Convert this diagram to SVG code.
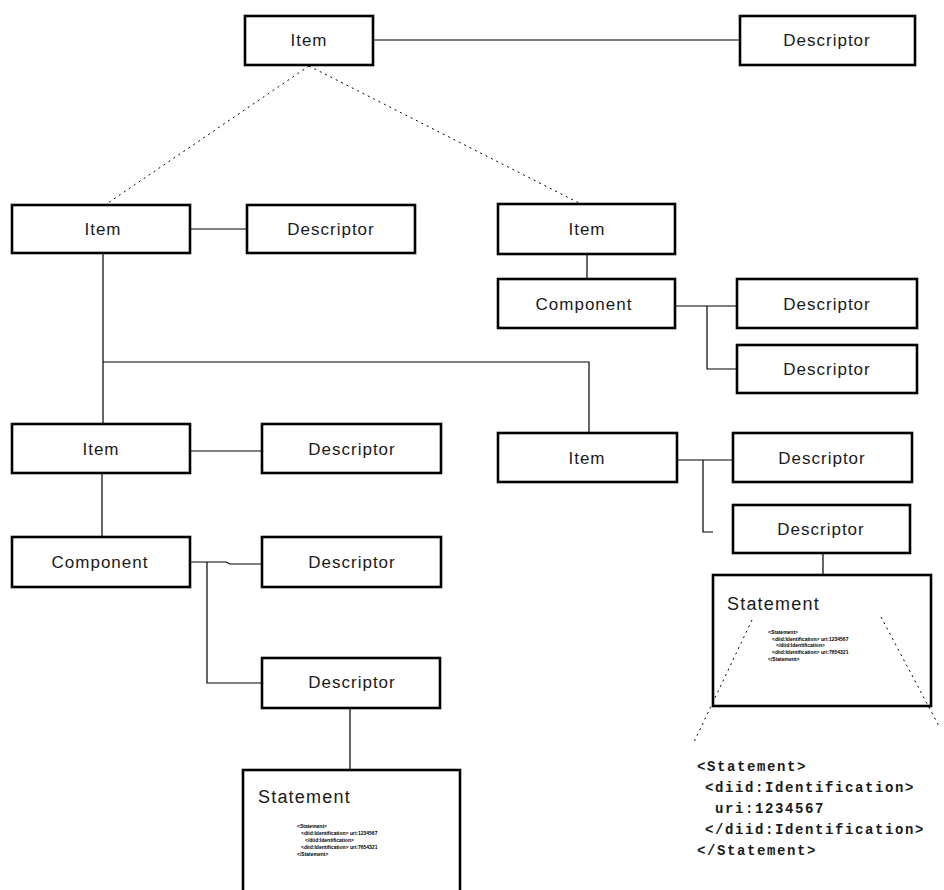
<svg xmlns="http://www.w3.org/2000/svg" width="944" height="890" viewBox="0 0 944 890">
  <style>
    .box { fill: #ffffff; stroke: #000000; stroke-width: 2.6; }
    .lbl { font-family: "Liberation Sans", Arial, sans-serif; font-size: 17px; letter-spacing: 1px; fill: #1a1a1a; text-anchor: middle; }
    .title { font-family: "Liberation Sans", Arial, sans-serif; font-size: 18px; letter-spacing: 1.2px; fill: #1a1a1a; }
    .tiny { font-family: "Liberation Sans", Arial, sans-serif; font-size: 5px; font-weight: bold; fill: #000000; }
    .code { font-family: "Liberation Mono", "Courier New", monospace; font-size: 14px; font-weight: bold; letter-spacing: 1.6px; fill: #1a1a1a; }
    .wire { fill: none; stroke: #000000; stroke-width: 1.2; }
    .dash { fill: none; stroke: #000000; stroke-width: 1; stroke-dasharray: 2 4; }
  </style>

  <!-- connectors -->
  <g id="connectors">
    <line class="wire" x1="373" y1="40" x2="740" y2="40"/>
    <line class="dash" x1="309" y1="66" x2="105" y2="205"/>
    <line class="dash" x1="309" y1="66" x2="583" y2="205"/>
    <line class="wire" x1="190" y1="229" x2="247" y2="229"/>
    <polyline class="wire" points="103,253 103,424"/>
    <polyline class="wire" points="103,362 589,362 589,433"/>
    <line class="wire" x1="587" y1="254" x2="587" y2="279"/>
    <polyline class="wire" points="675,306 737,306"/>
    <polyline class="wire" points="707,306 707,369 737,369"/>
    <line class="wire" x1="190" y1="451" x2="262" y2="451"/>
    <line class="wire" x1="102" y1="473" x2="102" y2="537"/>
    <polyline class="wire" points="190,562 226,562 230,564 262,564"/>
    <polyline class="wire" points="207,562 207,683 262,683"/>
    <line class="wire" x1="350" y1="708" x2="350" y2="770"/>
    <line class="wire" x1="677" y1="460" x2="733" y2="460"/>
    <polyline class="wire" points="703,460 703,532 713,532"/>
    <line class="wire" x1="823" y1="553" x2="823" y2="575"/>
  </g>

  <!-- top level -->
  <g id="item-root">
    <rect class="box" x="245" y="16" width="128" height="49"/>
    <text class="lbl" x="309" y="46">Item</text>
  </g>
  <g id="descriptor-root">
    <rect class="box" x="740" y="16" width="175" height="49"/>
    <text class="lbl" x="827" y="46">Descriptor</text>
  </g>

  <!-- second level, left -->
  <g id="item-a">
    <rect class="box" x="12" y="205" width="178" height="48"/>
    <text class="lbl" x="103" y="235">Item</text>
  </g>
  <g id="descriptor-a">
    <rect class="box" x="247" y="205" width="168" height="48"/>
    <text class="lbl" x="331" y="235">Descriptor</text>
  </g>

  <!-- second level, right -->
  <g id="item-b">
    <rect class="box" x="498" y="204" width="177" height="50"/>
    <text class="lbl" x="587" y="235">Item</text>
  </g>
  <g id="component-b">
    <rect class="box" x="498" y="279" width="177" height="49"/>
    <text class="lbl" x="584" y="310">Component</text>
  </g>
  <g id="descriptor-b1">
    <rect class="box" x="737" y="279" width="180" height="49"/>
    <text class="lbl" x="827" y="310">Descriptor</text>
  </g>
  <g id="descriptor-b2">
    <rect class="box" x="737" y="345" width="180" height="48"/>
    <text class="lbl" x="827" y="375">Descriptor</text>
  </g>

  <!-- third level, left -->
  <g id="item-c">
    <rect class="box" x="12" y="424" width="178" height="49"/>
    <text class="lbl" x="101" y="455">Item</text>
  </g>
  <g id="descriptor-c">
    <rect class="box" x="262" y="424" width="179" height="49"/>
    <text class="lbl" x="352" y="455">Descriptor</text>
  </g>
  <g id="component-c">
    <rect class="box" x="12" y="537" width="178" height="50"/>
    <text class="lbl" x="100" y="568">Component</text>
  </g>
  <g id="descriptor-c1">
    <rect class="box" x="262" y="537" width="179" height="50"/>
    <text class="lbl" x="352" y="568">Descriptor</text>
  </g>
  <g id="descriptor-c2">
    <rect class="box" x="262" y="658" width="178" height="50"/>
    <text class="lbl" x="352" y="688">Descriptor</text>
  </g>
  <g id="statement-c">
    <rect class="box" x="243" y="770" width="217" height="130"/>
    <text class="title" x="258" y="803">Statement</text>
    <text class="tiny" x="297" y="828">&lt;Statement&gt;</text>
    <text class="tiny" x="301" y="835">&lt;diid:Identification&gt; uri:1234567</text>
    <text class="tiny" x="305" y="842">&lt;/diid:Identification&gt;</text>
    <text class="tiny" x="301" y="849">&lt;diid:Identification&gt; uri:7654321</text>
    <text class="tiny" x="297" y="856">&lt;/Statement&gt;</text>
  </g>

  <!-- third level, right -->
  <g id="item-d">
    <rect class="box" x="498" y="433" width="179" height="49"/>
    <text class="lbl" x="587" y="464">Item</text>
  </g>
  <g id="descriptor-d1">
    <rect class="box" x="733" y="433" width="179" height="49"/>
    <text class="lbl" x="822" y="464">Descriptor</text>
  </g>
  <g id="descriptor-d2">
    <rect class="box" x="733" y="505" width="177" height="48"/>
    <text class="lbl" x="821" y="535">Descriptor</text>
  </g>
  <g id="statement-d">
    <rect class="box" x="713" y="575" width="218" height="131"/>
    <text class="title" x="727" y="610">Statement</text>
    <text class="tiny" x="768" y="634">&lt;Statement&gt;</text>
    <text class="tiny" x="772" y="641">&lt;diid:Identification&gt; uri:1234567</text>
    <text class="tiny" x="776" y="647">&lt;/diid:Identification&gt;</text>
    <text class="tiny" x="772" y="654">&lt;diid:Identification&gt; uri:7654321</text>
    <text class="tiny" x="768" y="661">&lt;/Statement&gt;</text>
  </g>

  <!-- zoom-out guides from the statement box to its source listing -->
  <g id="callout">
    <line class="dash" x1="752" y1="620" x2="694" y2="742"/>
    <line class="dash" x1="881" y1="617" x2="940" y2="728"/>
  </g>

  <!-- expanded statement source -->
  <g id="statement-source">
    <text class="code" x="697" y="771">&lt;Statement&gt;</text>
    <text class="code" x="705" y="792">&lt;diid:Identification&gt;</text>
    <text class="code" x="715" y="813">uri:1234567</text>
    <text class="code" x="705" y="834">&lt;/diid:Identification&gt;</text>
    <text class="code" x="697" y="855">&lt;/Statement&gt;</text>
  </g>
</svg>
